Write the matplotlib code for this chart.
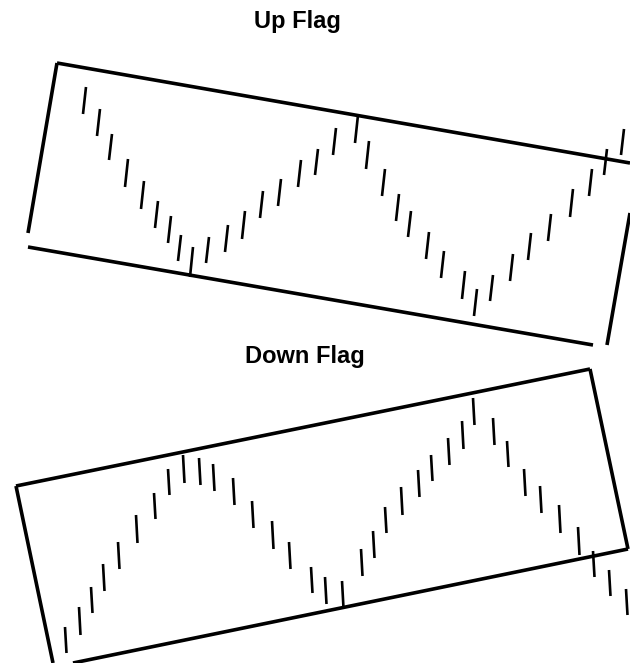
import matplotlib
matplotlib.use("Agg")
import matplotlib.pyplot as plt

# ---- data (pixel coordinates) ----
up_x = [86, 100, 112, 128, 144, 158, 171, 181, 193, 209, 228, 245, 263, 281, 301, 318, 336,
        358, 369, 385, 399, 411, 429, 444, 465, 477, 493, 513, 531, 551, 573, 592, 607, 624]
up_high = [87, 109, 134, 159, 181, 201, 216, 235, 247, 237, 225, 211, 191, 179, 160, 149, 128,
           115, 141, 169, 194, 211, 232, 251, 271, 289, 275, 254, 233, 214, 189, 169, 149, 129]
up_low = [114, 136, 160, 187, 209, 228, 243, 261, 277, 263, 252, 239, 218, 206, 187, 175, 155,
          143, 169, 196, 221, 237, 259, 278, 299, 316, 301, 281, 260, 241, 217, 196, 175, 155]

down_x = [65, 79, 91, 103, 118, 136, 154, 168, 183, 199, 213, 233, 252, 272, 289, 311, 325, 342,
          361, 373, 385, 401, 418, 431, 448, 462, 473, 493, 507, 524, 540, 559, 578, 593, 609, 626]
down_high = [627, 607, 587, 564, 542, 515, 493, 469, 455, 458, 464, 478, 501, 521, 542, 567, 577, 581,
             549, 531, 507, 487, 470, 455, 438, 421, 398, 418, 441, 469, 486, 505, 527, 551, 570, 589]
down_low = [653, 635, 613, 591, 569, 543, 519, 495, 483, 485, 491, 505, 528, 549, 569, 593, 604, 608,
            576, 558, 533, 515, 497, 481, 465, 449, 425, 445, 467, 496, 513, 533, 555, 577, 596, 615]

up_top_line = ([57, 630], [63, 163])
up_left_line = ([57, 28], [63, 233])
up_bottom_line = ([28, 593], [247, 345])
up_right_line = ([630, 607], [213, 345])

down_top_line = ([16, 590], [486, 369])
down_right_line = ([590, 628], [369, 549])
down_bottom_line = ([628, 73], [549, 663])
down_left_line = ([16, 53], [486, 663])

titles = ["Up Flag", "Down Flag"]

# ---- drawing ----
fig = plt.figure(figsize=(6.30, 6.63), dpi=100)
ax = fig.add_axes([0, 0, 1, 1])
ax.set_xlim(0, 630)
ax.set_ylim(663, 0)
ax.axis("off")

border_lw = 2.6
bar_lw = 1.9

for xs, ys in [up_top_line, up_left_line, up_bottom_line, up_right_line,
               down_top_line, down_right_line, down_bottom_line, down_left_line]:
    ax.plot(xs, ys, color="black", lw=border_lw, solid_capstyle="butt")

up_slant = -3.0
for x, h, l in zip(up_x, up_high, up_low):
    ax.plot([x, x + up_slant], [h, l], color="black", lw=bar_lw, solid_capstyle="butt")

down_slant = 1.5
for x, h, l in zip(down_x, down_high, down_low):
    ax.plot([x, x + down_slant], [h, l], color="black", lw=bar_lw, solid_capstyle="butt")

ax.text(297, 28, titles[0], ha="center", va="baseline", fontsize=17,
        fontweight="bold", family="Liberation Sans")
ax.text(305, 363, titles[1], ha="center", va="baseline", fontsize=17,
        fontweight="bold", family="Liberation Sans")

fig.savefig("out.png", dpi=100, facecolor="white")
